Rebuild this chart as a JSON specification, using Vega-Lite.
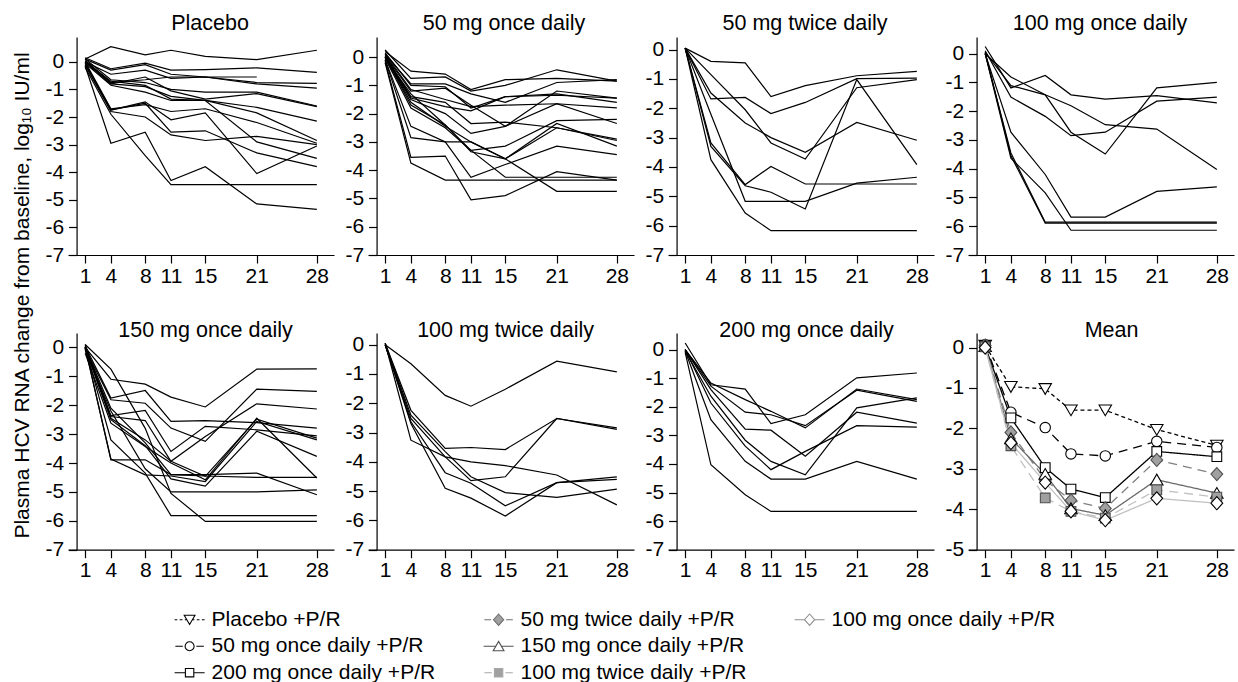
{
"$schema":"https://vega.github.io/schema/vega-lite/v6.json",
"background":"white",
"padding":{"left":11,"top":12,"right":2,"bottom":2},
"datasets":{
"p1":[
{"i":1,"d":1,"v":0.1},{"i":1,"d":4,"v":0.55},{"i":1,"d":8,"v":0.25},{"i":1,"d":11,"v":0.42},{"i":1,"d":15,"v":0.2},{"i":1,"d":21,"v":0.08},{"i":1,"d":28,"v":0.42},
{"i":2,"d":1,"v":0.15},{"i":2,"d":4,"v":-0.25},{"i":2,"d":8,"v":-0.05},{"i":2,"d":11,"v":-0.3},{"i":2,"d":15,"v":-0.28},{"i":2,"d":21,"v":-0.22},{"i":2,"d":28,"v":-0.38},
{"i":3,"d":1,"v":0.1},{"i":3,"d":4,"v":-0.3},{"i":3,"d":8,"v":-0.1},{"i":3,"d":11,"v":-0.45},{"i":3,"d":15,"v":-0.55},{"i":3,"d":21,"v":-0.75},{"i":3,"d":28,"v":-0.78},
{"i":4,"d":1,"v":0},{"i":4,"d":4,"v":-0.45},{"i":4,"d":8,"v":-0.3},{"i":4,"d":11,"v":-0.6},{"i":4,"d":15,"v":-0.55},{"i":4,"d":21,"v":-0.8},{"i":4,"d":28,"v":-0.95},
{"i":5,"d":1,"v":0.05},{"i":5,"d":4,"v":-0.75},{"i":5,"d":8,"v":-0.65},{"i":5,"d":11,"v":-0.55},{"i":5,"d":15,"v":-0.55},{"i":5,"d":21,"v":-0.55},
{"i":6,"d":1,"v":0.1},{"i":6,"d":4,"v":-0.65},{"i":6,"d":8,"v":-0.75},{"i":6,"d":11,"v":-1},{"i":6,"d":15,"v":-1.1},{"i":6,"d":21,"v":-1.1},{"i":6,"d":28,"v":-1.6},
{"i":7,"d":1,"v":0},{"i":7,"d":4,"v":-0.8},{"i":7,"d":8,"v":-0.55},{"i":7,"d":11,"v":-1.05},{"i":7,"d":15,"v":-1.35},{"i":7,"d":21,"v":-1.15},{"i":7,"d":28,"v":-1.62},
{"i":8,"d":1,"v":0},{"i":8,"d":4,"v":-0.8},{"i":8,"d":8,"v":-0.9},{"i":8,"d":11,"v":-1.25},{"i":8,"d":15,"v":-1.4},{"i":8,"d":21,"v":-1.65},{"i":8,"d":28,"v":-2.15},
{"i":9,"d":1,"v":-0.05},{"i":9,"d":4,"v":-0.85},{"i":9,"d":8,"v":-1.1},{"i":9,"d":11,"v":-1.4},{"i":9,"d":15,"v":-1.4},{"i":9,"d":21,"v":-1.85},{"i":9,"d":28,"v":-2.85},
{"i":10,"d":1,"v":0},{"i":10,"d":4,"v":-1.7},{"i":10,"d":8,"v":-1.55},{"i":10,"d":11,"v":-1.8},{"i":10,"d":15,"v":-1.7},{"i":10,"d":21,"v":-2.2},{"i":10,"d":28,"v":-2.95},
{"i":11,"d":1,"v":-0.05},{"i":11,"d":4,"v":-1.75},{"i":11,"d":8,"v":-1.45},{"i":11,"d":11,"v":-2.1},{"i":11,"d":15,"v":-1.85},{"i":11,"d":21,"v":-4.05},{"i":11,"d":28,"v":-3.05},
{"i":12,"d":1,"v":-0.1},{"i":12,"d":4,"v":-1.8},{"i":12,"d":8,"v":-2},{"i":12,"d":11,"v":-2.65},{"i":12,"d":15,"v":-2.85},{"i":12,"d":21,"v":-2.7},{"i":12,"d":28,"v":-3},
{"i":13,"d":1,"v":-0.1},{"i":13,"d":4,"v":-1.75},{"i":13,"d":8,"v":-1.5},{"i":13,"d":11,"v":-2.55},{"i":13,"d":15,"v":-2.5},{"i":13,"d":21,"v":-3.3},{"i":13,"d":28,"v":-3.8},
{"i":14,"d":1,"v":-0.15},{"i":14,"d":4,"v":-2.95},{"i":14,"d":8,"v":-2.55},{"i":14,"d":11,"v":-4.3},{"i":14,"d":15,"v":-3.8},{"i":14,"d":21,"v":-5.15},{"i":14,"d":28,"v":-5.35},
{"i":15,"d":1,"v":-0.2},{"i":15,"d":4,"v":-1.9},{"i":15,"d":8,"v":-3.4},{"i":15,"d":11,"v":-4.45},{"i":15,"d":15,"v":-4.45},{"i":15,"d":21,"v":-4.45},{"i":15,"d":28,"v":-4.45},
{"i":16,"d":1,"v":0},{"i":16,"d":4,"v":-0.7},{"i":16,"d":8,"v":-0.85},{"i":16,"d":11,"v":-1.35},{"i":16,"d":15,"v":-1.4},{"i":16,"d":21,"v":-2.9},{"i":16,"d":28,"v":-3.5}
],
"p2":[
{"i":1,"d":1,"v":0.2},{"i":1,"d":4,"v":-0.5},{"i":1,"d":8,"v":-0.6},{"i":1,"d":11,"v":-1.15},{"i":1,"d":15,"v":-0.8},{"i":1,"d":21,"v":-0.75},{"i":1,"d":28,"v":-0.85},
{"i":2,"d":1,"v":0.25},{"i":2,"d":4,"v":-0.75},{"i":2,"d":8,"v":-0.7},{"i":2,"d":11,"v":-1.2},{"i":2,"d":15,"v":-1},{"i":2,"d":21,"v":-0.45},{"i":2,"d":28,"v":-0.85},
{"i":3,"d":1,"v":0.1},{"i":3,"d":4,"v":-0.95},{"i":3,"d":8,"v":-0.95},{"i":3,"d":11,"v":-1.3},{"i":3,"d":15,"v":-1.6},{"i":3,"d":21,"v":-0.9},{"i":3,"d":28,"v":-0.8},
{"i":4,"d":1,"v":0.15},{"i":4,"d":4,"v":-1},{"i":4,"d":8,"v":-1.05},{"i":4,"d":11,"v":-1.8},{"i":4,"d":15,"v":-1.4},{"i":4,"d":21,"v":-1.35},{"i":4,"d":28,"v":-1.45},
{"i":5,"d":1,"v":0.05},{"i":5,"d":4,"v":-1.2},{"i":5,"d":8,"v":-1.1},{"i":5,"d":11,"v":-1.7},{"i":5,"d":15,"v":-2.45},{"i":5,"d":21,"v":-1.2},{"i":5,"d":28,"v":-1.45},
{"i":6,"d":1,"v":0.1},{"i":6,"d":4,"v":-1.15},{"i":6,"d":8,"v":-1.5},{"i":6,"d":11,"v":-1.75},{"i":6,"d":15,"v":-1.7},{"i":6,"d":21,"v":-1.65},{"i":6,"d":28,"v":-1.8},
{"i":7,"d":1,"v":0},{"i":7,"d":4,"v":-1.45},{"i":7,"d":8,"v":-1.75},{"i":7,"d":11,"v":-1.9},{"i":7,"d":15,"v":-1.4},{"i":7,"d":21,"v":-1.3},{"i":7,"d":28,"v":-1.6},
{"i":8,"d":1,"v":0.05},{"i":8,"d":4,"v":-1.4},{"i":8,"d":8,"v":-1.6},{"i":8,"d":11,"v":-2.35},{"i":8,"d":15,"v":-2.3},{"i":8,"d":21,"v":-2.5},{"i":8,"d":28,"v":-2.9},
{"i":9,"d":1,"v":0},{"i":9,"d":4,"v":-1.5},{"i":9,"d":8,"v":-2},{"i":9,"d":11,"v":-2.7},{"i":9,"d":15,"v":-2.45},{"i":9,"d":21,"v":-1.65},{"i":9,"d":28,"v":-2.35},
{"i":10,"d":1,"v":-0.05},{"i":10,"d":4,"v":-1.8},{"i":10,"d":8,"v":-2.5},{"i":10,"d":11,"v":-3.3},{"i":10,"d":15,"v":-3.15},{"i":10,"d":21,"v":-2.25},{"i":10,"d":28,"v":-2.2},
{"i":11,"d":1,"v":0},{"i":11,"d":4,"v":-1.6},{"i":11,"d":8,"v":-2.45},{"i":11,"d":11,"v":-3},{"i":11,"d":15,"v":-3.6},{"i":11,"d":21,"v":-2.35},{"i":11,"d":28,"v":-3.15},
{"i":12,"d":1,"v":-0.1},{"i":12,"d":4,"v":-2.45},{"i":12,"d":8,"v":-3},{"i":12,"d":11,"v":-3},{"i":12,"d":15,"v":-3.6},{"i":12,"d":21,"v":-2.5},{"i":12,"d":28,"v":-2.95},
{"i":13,"d":1,"v":-0.1},{"i":13,"d":4,"v":-2.85},{"i":13,"d":8,"v":-3},{"i":13,"d":11,"v":-4.25},{"i":13,"d":15,"v":-3.8},{"i":13,"d":21,"v":-3.15},{"i":13,"d":28,"v":-3.45},
{"i":14,"d":1,"v":-0.15},{"i":14,"d":4,"v":-3.55},{"i":14,"d":8,"v":-3.5},{"i":14,"d":11,"v":-5.05},{"i":14,"d":15,"v":-4.9},{"i":14,"d":21,"v":-4.05},{"i":14,"d":28,"v":-4.35},
{"i":15,"d":1,"v":-0.2},{"i":15,"d":4,"v":-3.75},{"i":15,"d":8,"v":-4.35},{"i":15,"d":11,"v":-4.35},{"i":15,"d":15,"v":-4.35},{"i":15,"d":21,"v":-4.35},{"i":15,"d":28,"v":-4.35},
{"i":16,"d":1,"v":-0.05},{"i":16,"d":4,"v":-1.3},{"i":16,"d":8,"v":-2.4},{"i":16,"d":11,"v":-3.35},{"i":16,"d":15,"v":-3.6},{"i":16,"d":21,"v":-4.75},{"i":16,"d":28,"v":-4.75},
{"i":17,"d":1,"v":0},{"i":17,"d":4,"v":-1.7},{"i":17,"d":8,"v":-2.4},{"i":17,"d":11,"v":-3.3},{"i":17,"d":15,"v":-4.25},{"i":17,"d":21,"v":-4.25},{"i":17,"d":28,"v":-4.25}
],
"p3":[
{"i":1,"d":1,"v":0.05},{"i":1,"d":4,"v":-0.4},{"i":1,"d":8,"v":-0.45},{"i":1,"d":11,"v":-1.6},{"i":1,"d":15,"v":-1.23},{"i":1,"d":21,"v":-0.89},{"i":1,"d":28,"v":-0.74},
{"i":2,"d":1,"v":0.05},{"i":2,"d":4,"v":-1.68},{"i":2,"d":8,"v":-1.63},{"i":2,"d":11,"v":-2.18},{"i":2,"d":15,"v":-1.8},{"i":2,"d":21,"v":-0.99},{"i":2,"d":28,"v":-0.97},
{"i":3,"d":1,"v":0.05},{"i":3,"d":4,"v":-0.85},{"i":3,"d":8,"v":-2.05},{"i":3,"d":11,"v":-3.18},{"i":3,"d":15,"v":-3.73},{"i":3,"d":21,"v":-1.3},{"i":3,"d":28,"v":-1.02},
{"i":4,"d":1,"v":0.05},{"i":4,"d":4,"v":-1.48},{"i":4,"d":8,"v":-2.5},{"i":4,"d":11,"v":-3},{"i":4,"d":15,"v":-3.5},{"i":4,"d":21,"v":-2.48},{"i":4,"d":28,"v":-3.09},
{"i":5,"d":1,"v":0.05},{"i":5,"d":4,"v":-3.18},{"i":5,"d":8,"v":-4.6},{"i":5,"d":11,"v":-3.98},{"i":5,"d":15,"v":-4.58},{"i":5,"d":21,"v":-4.58},{"i":5,"d":28,"v":-4.58},
{"i":6,"d":1,"v":0.05},{"i":6,"d":4,"v":-3.3},{"i":6,"d":8,"v":-4.64},{"i":6,"d":11,"v":-4.86},{"i":6,"d":15,"v":-5.43},{"i":6,"d":21,"v":-1.02},{"i":6,"d":28,"v":-3.92},
{"i":7,"d":1,"v":0.05},{"i":7,"d":4,"v":-2.2},{"i":7,"d":8,"v":-5.17},{"i":7,"d":11,"v":-5.17},{"i":7,"d":15,"v":-5.17},{"i":7,"d":21,"v":-4.55},{"i":7,"d":28,"v":-4.35},
{"i":8,"d":1,"v":0.05},{"i":8,"d":4,"v":-3.75},{"i":8,"d":8,"v":-5.57},{"i":8,"d":11,"v":-6.17},{"i":8,"d":15,"v":-6.17},{"i":8,"d":21,"v":-6.17},{"i":8,"d":28,"v":-6.17}
],
"p4":[
{"i":1,"d":1,"v":0.25},{"i":1,"d":4,"v":-1.19},{"i":1,"d":8,"v":-0.76},{"i":1,"d":11,"v":-1.43},{"i":1,"d":15,"v":-1.58},{"i":1,"d":21,"v":-1.46},{"i":1,"d":28,"v":-1.71},
{"i":2,"d":1,"v":0},{"i":2,"d":4,"v":-0.81},{"i":2,"d":8,"v":-1.43},{"i":2,"d":11,"v":-1.81},{"i":2,"d":15,"v":-2.47},{"i":2,"d":21,"v":-2.62},{"i":2,"d":28,"v":-4.03},
{"i":3,"d":1,"v":0.05},{"i":3,"d":4,"v":-1.11},{"i":3,"d":8,"v":-1.43},{"i":3,"d":11,"v":-2.73},{"i":3,"d":15,"v":-3.49},{"i":3,"d":21,"v":-1.19},{"i":3,"d":28,"v":-1},
{"i":4,"d":1,"v":0.1},{"i":4,"d":4,"v":-1.51},{"i":4,"d":8,"v":-2.18},{"i":4,"d":11,"v":-2.85},{"i":4,"d":15,"v":-2.73},{"i":4,"d":21,"v":-1.65},{"i":4,"d":28,"v":-1.51},
{"i":5,"d":1,"v":0},{"i":5,"d":4,"v":-2.73},{"i":5,"d":8,"v":-4.2},{"i":5,"d":11,"v":-5.68},{"i":5,"d":15,"v":-5.68},{"i":5,"d":21,"v":-4.79},{"i":5,"d":28,"v":-4.63},
{"i":6,"d":1,"v":0},{"i":6,"d":4,"v":-3.45},{"i":6,"d":8,"v":-5.86},{"i":6,"d":11,"v":-5.86},{"i":6,"d":15,"v":-5.86},{"i":6,"d":21,"v":-5.86},{"i":6,"d":28,"v":-5.86},
{"i":7,"d":1,"v":0.05},{"i":7,"d":4,"v":-3.55},{"i":7,"d":8,"v":-5.89},{"i":7,"d":11,"v":-5.89},{"i":7,"d":15,"v":-5.89},{"i":7,"d":21,"v":-5.89},{"i":7,"d":28,"v":-5.89},
{"i":8,"d":1,"v":0},{"i":8,"d":4,"v":-3.63},{"i":8,"d":8,"v":-4.84},{"i":8,"d":11,"v":-6.14},{"i":8,"d":15,"v":-6.14},{"i":8,"d":21,"v":-6.14},{"i":8,"d":28,"v":-6.14}
],
"p5":[
{"i":1,"d":1,"v":0.1},{"i":1,"d":4,"v":-0.75},{"i":1,"d":8,"v":-2.8},{"i":1,"d":11,"v":-5.05},{"i":1,"d":15,"v":-6.02},{"i":1,"d":21,"v":-6.02},{"i":1,"d":28,"v":-6.02},
{"i":2,"d":1,"v":0},{"i":2,"d":4,"v":-1.1},{"i":2,"d":8,"v":-1.27},{"i":2,"d":11,"v":-1.72},{"i":2,"d":15,"v":-2.06},{"i":2,"d":21,"v":-0.75},{"i":2,"d":28,"v":-0.74},
{"i":3,"d":1,"v":0.05},{"i":3,"d":4,"v":-1.75},{"i":3,"d":8,"v":-1.49},{"i":3,"d":11,"v":-2.56},{"i":3,"d":15,"v":-2.53},{"i":3,"d":21,"v":-2.6},{"i":3,"d":28,"v":-2.79},
{"i":4,"d":1,"v":-0.05},{"i":4,"d":4,"v":-1.81},{"i":4,"d":8,"v":-1.93},{"i":4,"d":11,"v":-2.79},{"i":4,"d":15,"v":-3.25},{"i":4,"d":21,"v":-1.44},{"i":4,"d":28,"v":-1.52},
{"i":5,"d":1,"v":0},{"i":5,"d":4,"v":-2.36},{"i":5,"d":8,"v":-2.18},{"i":5,"d":11,"v":-3.6},{"i":5,"d":15,"v":-2.73},{"i":5,"d":21,"v":-2.85},{"i":5,"d":28,"v":-3.06},
{"i":6,"d":1,"v":0},{"i":6,"d":4,"v":-2.39},{"i":6,"d":8,"v":-2.53},{"i":6,"d":11,"v":-3.94},{"i":6,"d":15,"v":-3.08},{"i":6,"d":21,"v":-1.95},{"i":6,"d":28,"v":-2.13},
{"i":7,"d":1,"v":0.1},{"i":7,"d":4,"v":-2.45},{"i":7,"d":8,"v":-3.2},{"i":7,"d":11,"v":-3.94},{"i":7,"d":15,"v":-4.46},{"i":7,"d":21,"v":-2.48},{"i":7,"d":28,"v":-3.14},
{"i":8,"d":1,"v":-0.2},{"i":8,"d":4,"v":-2.62},{"i":8,"d":8,"v":-3.43},{"i":8,"d":11,"v":-4},{"i":8,"d":15,"v":-4.58},{"i":8,"d":21,"v":-2.45},{"i":8,"d":28,"v":-4.52},
{"i":9,"d":1,"v":0},{"i":9,"d":4,"v":-3.89},{"i":9,"d":8,"v":-3.89},{"i":9,"d":11,"v":-4.4},{"i":9,"d":15,"v":-4.4},{"i":9,"d":21,"v":-4.35},{"i":9,"d":28,"v":-5.1},
{"i":10,"d":1,"v":0},{"i":10,"d":4,"v":-3.86},{"i":10,"d":8,"v":-4.41},{"i":10,"d":11,"v":-4.45},{"i":10,"d":15,"v":-4.64},{"i":10,"d":21,"v":-2.56},{"i":10,"d":28,"v":-3.2},
{"i":11,"d":1,"v":-0.1},{"i":11,"d":4,"v":-2.2},{"i":11,"d":8,"v":-4.2},{"i":11,"d":11,"v":-5},{"i":11,"d":15,"v":-5},{"i":11,"d":21,"v":-5},{"i":11,"d":28,"v":-4.93},
{"i":12,"d":1,"v":0},{"i":12,"d":4,"v":-3.2},{"i":12,"d":8,"v":-4.35},{"i":12,"d":11,"v":-5.82},{"i":12,"d":15,"v":-5.82},{"i":12,"d":21,"v":-5.82},{"i":12,"d":28,"v":-5.82},
{"i":13,"d":1,"v":-0.05},{"i":13,"d":4,"v":-2.5},{"i":13,"d":8,"v":-3.4},{"i":13,"d":11,"v":-4.55},{"i":13,"d":15,"v":-4.8},{"i":13,"d":21,"v":-2.9},{"i":13,"d":28,"v":-3.77},
{"i":14,"d":1,"v":0},{"i":14,"d":4,"v":-2.1},{"i":14,"d":8,"v":-3.3},{"i":14,"d":11,"v":-4.4},{"i":14,"d":15,"v":-4.45},{"i":14,"d":21,"v":-4.5},{"i":14,"d":28,"v":-4.5}
],
"p6":[
{"i":1,"d":1,"v":0},{"i":1,"d":4,"v":-0.65},{"i":1,"d":8,"v":-1.73},{"i":1,"d":11,"v":-2.1},{"i":1,"d":15,"v":-1.52},{"i":1,"d":21,"v":-0.56},{"i":1,"d":28,"v":-0.93},
{"i":2,"d":1,"v":0.05},{"i":2,"d":4,"v":-2.24},{"i":2,"d":8,"v":-3.54},{"i":2,"d":11,"v":-3.51},{"i":2,"d":15,"v":-3.58},{"i":2,"d":21,"v":-2.52},{"i":2,"d":28,"v":-2.84},
{"i":3,"d":1,"v":0},{"i":3,"d":4,"v":-2.52},{"i":3,"d":8,"v":-3.83},{"i":3,"d":11,"v":-4.64},{"i":3,"d":15,"v":-4.51},{"i":3,"d":21,"v":-2.52},{"i":3,"d":28,"v":-2.89},
{"i":4,"d":1,"v":0.05},{"i":4,"d":4,"v":-3.26},{"i":4,"d":8,"v":-3.83},{"i":4,"d":11,"v":-4},{"i":4,"d":15,"v":-4.13},{"i":4,"d":21,"v":-4.45},{"i":4,"d":28,"v":-5.47},
{"i":5,"d":1,"v":0},{"i":5,"d":4,"v":-2.63},{"i":5,"d":8,"v":-4.37},{"i":5,"d":11,"v":-4.73},{"i":5,"d":15,"v":-5.5},{"i":5,"d":21,"v":-4.71},{"i":5,"d":28,"v":-4.51},
{"i":6,"d":1,"v":0},{"i":6,"d":4,"v":-2.69},{"i":6,"d":8,"v":-4.9},{"i":6,"d":11,"v":-5.24},{"i":6,"d":15,"v":-5.85},{"i":6,"d":21,"v":-4.71},{"i":6,"d":28,"v":-4.6},
{"i":7,"d":1,"v":0.05},{"i":7,"d":4,"v":-2.41},{"i":7,"d":8,"v":-3.65},{"i":7,"d":11,"v":-4.51},{"i":7,"d":15,"v":-5.05},{"i":7,"d":21,"v":-5.21},{"i":7,"d":28,"v":-4.93}
],
"p7":[
{"i":1,"d":1,"v":0.23},{"i":1,"d":4,"v":-1.23},{"i":1,"d":8,"v":-1.38},{"i":1,"d":11,"v":-2.59},{"i":1,"d":15,"v":-2.28},{"i":1,"d":21,"v":-0.99},{"i":1,"d":28,"v":-0.82},
{"i":2,"d":1,"v":0},{"i":2,"d":4,"v":-1.17},{"i":2,"d":8,"v":-1.75},{"i":2,"d":11,"v":-2.16},{"i":2,"d":15,"v":-2.74},{"i":2,"d":21,"v":-1.38},{"i":2,"d":28,"v":-1.75},
{"i":3,"d":1,"v":0},{"i":3,"d":4,"v":-1.28},{"i":3,"d":8,"v":-2.19},{"i":3,"d":11,"v":-2.28},{"i":3,"d":15,"v":-2.66},{"i":3,"d":21,"v":-1.42},{"i":3,"d":28,"v":-1.81},
{"i":4,"d":1,"v":0},{"i":4,"d":4,"v":-1.4},{"i":4,"d":8,"v":-2.78},{"i":4,"d":11,"v":-2.82},{"i":4,"d":15,"v":-3.73},{"i":4,"d":21,"v":-2.19},{"i":4,"d":28,"v":-2.57},
{"i":5,"d":1,"v":-0.05},{"i":5,"d":4,"v":-1.63},{"i":5,"d":8,"v":-3.17},{"i":5,"d":11,"v":-3.91},{"i":5,"d":15,"v":-4.38},{"i":5,"d":21,"v":-2.04},{"i":5,"d":28,"v":-1.69},
{"i":6,"d":1,"v":0},{"i":6,"d":4,"v":-1.87},{"i":6,"d":8,"v":-3.38},{"i":6,"d":11,"v":-4.2},{"i":6,"d":15,"v":-3.56},{"i":6,"d":21,"v":-2.66},{"i":6,"d":28,"v":-2.71},
{"i":7,"d":1,"v":-0.05},{"i":7,"d":4,"v":-2.45},{"i":7,"d":8,"v":-3.91},{"i":7,"d":11,"v":-4.53},{"i":7,"d":15,"v":-4.53},{"i":7,"d":21,"v":-3.91},{"i":7,"d":28,"v":-4.53},
{"i":8,"d":1,"v":-0.1},{"i":8,"d":4,"v":-4.03},{"i":8,"d":8,"v":-5.08},{"i":8,"d":11,"v":-5.66},{"i":8,"d":15,"v":-5.66},{"i":8,"d":21,"v":-5.66},{"i":8,"d":28,"v":-5.66}
],
"mean":[
{"s":"Placebo +P/R","d":1,"v":0.05},{"s":"Placebo +P/R","d":4,"v":-0.97},{"s":"Placebo +P/R","d":8,"v":-1.02},{"s":"Placebo +P/R","d":11,"v":-1.55},{"s":"Placebo +P/R","d":15,"v":-1.55},{"s":"Placebo +P/R","d":21,"v":-2.03},{"s":"Placebo +P/R","d":28,"v":-2.42},
{"s":"50 mg once daily +P/R","d":1,"v":0.07},{"s":"50 mg once daily +P/R","d":4,"v":-1.6},{"s":"50 mg once daily +P/R","d":8,"v":-1.98},{"s":"50 mg once daily +P/R","d":11,"v":-2.63},{"s":"50 mg once daily +P/R","d":15,"v":-2.68},{"s":"50 mg once daily +P/R","d":21,"v":-2.32},{"s":"50 mg once daily +P/R","d":28,"v":-2.47},
{"s":"200 mg once daily +P/R","d":1,"v":0.03},{"s":"200 mg once daily +P/R","d":4,"v":-1.74},{"s":"200 mg once daily +P/R","d":8,"v":-2.97},{"s":"200 mg once daily +P/R","d":11,"v":-3.5},{"s":"200 mg once daily +P/R","d":15,"v":-3.71},{"s":"200 mg once daily +P/R","d":21,"v":-2.57},{"s":"200 mg once daily +P/R","d":28,"v":-2.7},
{"s":"50 mg twice daily +P/R","d":1,"v":0.05},{"s":"50 mg twice daily +P/R","d":4,"v":-2.1},{"s":"50 mg twice daily +P/R","d":8,"v":-3.28},{"s":"50 mg twice daily +P/R","d":11,"v":-3.78},{"s":"50 mg twice daily +P/R","d":15,"v":-3.98},{"s":"50 mg twice daily +P/R","d":21,"v":-2.78},{"s":"50 mg twice daily +P/R","d":28,"v":-3.13},
{"s":"150 mg once daily +P/R","d":1,"v":0.03},{"s":"150 mg once daily +P/R","d":4,"v":-2.25},{"s":"150 mg once daily +P/R","d":8,"v":-3.13},{"s":"150 mg once daily +P/R","d":11,"v":-3.98},{"s":"150 mg once daily +P/R","d":15,"v":-4.15},{"s":"150 mg once daily +P/R","d":21,"v":-3.27},{"s":"150 mg once daily +P/R","d":28,"v":-3.6},
{"s":"100 mg twice daily +P/R","d":1,"v":0.02},{"s":"100 mg twice daily +P/R","d":4,"v":-2.43},{"s":"100 mg twice daily +P/R","d":8,"v":-3.72},{"s":"100 mg twice daily +P/R","d":11,"v":-4.05},{"s":"100 mg twice daily +P/R","d":15,"v":-4.22},{"s":"100 mg twice daily +P/R","d":21,"v":-3.52},{"s":"100 mg twice daily +P/R","d":28,"v":-3.7},
{"s":"100 mg once daily +P/R","d":1,"v":0},{"s":"100 mg once daily +P/R","d":4,"v":-2.36},{"s":"100 mg once daily +P/R","d":8,"v":-3.34},{"s":"100 mg once daily +P/R","d":11,"v":-4.05},{"s":"100 mg once daily +P/R","d":15,"v":-4.27},{"s":"100 mg once daily +P/R","d":21,"v":-3.73},{"s":"100 mg once daily +P/R","d":28,"v":-3.85}
]
},
"concat":[
{"title":{"text":"Placebo","offset":3,"dx":9},"width":266,"height":218,"data":{"name":"p1"},"mark":{"type":"line","color":"black","strokeWidth":1.2},
 "encoding":{"x":{"field":"d","type":"quantitative","title":null,"scale":{"domain":[-1,30],"nice":false,"zero":false},"axis":{"values":[1,4,8,11,15,21,28],"labelOverlap":false,"labelFlush":false,"labelPadding":2}},
 "y":{"field":"v","type":"quantitative","scale":{"domain":[-7,0.9],"nice":false,"zero":false},"axis":{"values":[-7,-6,-5,-4,-3,-2,-1,0],"offset":-8.58,"labelExpr":"''+datum.value","labelPadding":5,"labelOverlap":false,"title":"Plasma HCV RNA change from baseline, log₁₀ IU/ml","titleX":-48,"titleY":258,"titleAngle":270,"titleAlign":"center","titleBaseline":"alphabetic"}},
 "detail":{"field":"i","type":"nominal"}}},
{"title":{"text":"50 mg once daily","offset":3,"dx":3},"width":266,"height":218,"data":{"name":"p2"},"mark":{"type":"line","color":"black","strokeWidth":1.2},
 "encoding":{"x":{"field":"d","type":"quantitative","title":null,"scale":{"domain":[-1,30],"nice":false,"zero":false},"axis":{"values":[1,4,8,11,15,21,28],"labelOverlap":false,"labelFlush":false,"labelPadding":2}},
 "y":{"field":"v","type":"quantitative","title":null,"scale":{"domain":[-7,0.71],"nice":false,"zero":false},"axis":{"values":[-7,-6,-5,-4,-3,-2,-1,0],"offset":-8.58,"labelExpr":"''+datum.value","labelPadding":5,"labelOverlap":false}},
 "detail":{"field":"i","type":"nominal"}}},
{"title":{"text":"50 mg twice daily","offset":3,"dx":4},"width":266,"height":218,"data":{"name":"p3"},"mark":{"type":"line","color":"black","strokeWidth":1.2},
 "encoding":{"x":{"field":"d","type":"quantitative","title":null,"scale":{"domain":[-1,30],"nice":false,"zero":false},"axis":{"values":[1,4,8,11,15,21,28],"labelOverlap":false,"labelFlush":false,"labelPadding":2}},
 "y":{"field":"v","type":"quantitative","title":null,"scale":{"domain":[-7,0.43],"nice":false,"zero":false},"axis":{"values":[-7,-6,-5,-4,-3,-2,-1,0],"offset":-8.58,"labelExpr":"''+datum.value","labelPadding":5,"labelOverlap":false}},
 "detail":{"field":"i","type":"nominal"}}},
{"title":{"text":"100 mg once daily","offset":3,"dx":-1},"width":266,"height":218,"data":{"name":"p4"},"mark":{"type":"line","color":"black","strokeWidth":1.2},
 "encoding":{"x":{"field":"d","type":"quantitative","title":null,"scale":{"domain":[-1,30],"nice":false,"zero":false},"axis":{"values":[1,4,8,11,15,21,28],"labelOverlap":false,"labelFlush":false,"labelPadding":2}},
 "y":{"field":"v","type":"quantitative","title":null,"scale":{"domain":[-7,0.58],"nice":false,"zero":false},"axis":{"values":[-7,-6,-5,-4,-3,-2,-1,0],"offset":-8.58,"labelExpr":"''+datum.value","labelPadding":5,"labelOverlap":false}},
 "detail":{"field":"i","type":"nominal"}}},
{"title":{"text":"150 mg once daily","offset":-8,"dx":4.5},"width":266,"height":216.7,"data":{"name":"p5"},"mark":{"type":"line","color":"black","strokeWidth":1.2},
 "encoding":{"x":{"field":"d","type":"quantitative","title":null,"scale":{"domain":[-1,30],"nice":false,"zero":false},"axis":{"values":[1,4,8,11,15,21,28],"labelOverlap":false,"labelFlush":false,"labelPadding":2}},
 "y":{"field":"v","type":"quantitative","title":null,"scale":{"domain":[-7,0.5],"nice":false,"zero":false},"axis":{"values":[-7,-6,-5,-4,-3,-2,-1,0],"offset":-8.58,"labelExpr":"''+datum.value","labelPadding":5,"labelOverlap":false}},
 "detail":{"field":"i","type":"nominal"}}},
{"title":{"text":"100 mg twice daily","offset":-8,"dx":4.6},"width":266,"height":216.7,"data":{"name":"p6"},"mark":{"type":"line","color":"black","strokeWidth":1.2},
 "encoding":{"x":{"field":"d","type":"quantitative","title":null,"scale":{"domain":[-1,30],"nice":false,"zero":false},"axis":{"values":[1,4,8,11,15,21,28],"labelOverlap":false,"labelFlush":false,"labelPadding":2}},
 "y":{"field":"v","type":"quantitative","title":null,"scale":{"domain":[-7,0.4],"nice":false,"zero":false},"axis":{"values":[-7,-6,-5,-4,-3,-2,-1,0],"offset":-8.58,"labelExpr":"''+datum.value","labelPadding":5,"labelOverlap":false}},
 "detail":{"field":"i","type":"nominal"}}},
{"title":{"text":"200 mg once daily","offset":-8,"dx":5.6},"width":266,"height":216.7,"data":{"name":"p7"},"mark":{"type":"line","color":"black","strokeWidth":1.2},
 "encoding":{"x":{"field":"d","type":"quantitative","title":null,"scale":{"domain":[-1,30],"nice":false,"zero":false},"axis":{"values":[1,4,8,11,15,21,28],"labelOverlap":false,"labelFlush":false,"labelPadding":2}},
 "y":{"field":"v","type":"quantitative","title":null,"scale":{"domain":[-7,0.58],"nice":false,"zero":false},"axis":{"values":[-7,-6,-5,-4,-3,-2,-1,0],"offset":-8.58,"labelExpr":"''+datum.value","labelPadding":5,"labelOverlap":false}},
 "detail":{"field":"i","type":"nominal"}}},
{"title":{"text":"Mean","offset":-8,"dx":10.6},"width":266,"height":216.7,"data":{"name":"mean"},
 "encoding":{"x":{"field":"d","type":"quantitative","title":null,"scale":{"domain":[-1,30],"nice":false,"zero":false},"axis":{"values":[1,4,8,11,15,21,28],"labelOverlap":false,"labelFlush":false,"labelPadding":2}},
 "y":{"field":"v","type":"quantitative","title":null,"scale":{"domain":[-5,0.36],"nice":false,"zero":false},"axis":{"values":[-5,-4,-3,-2,-1,0],"offset":-8.58,"labelExpr":"''+datum.value","labelPadding":5,"labelOverlap":false}}},
 "layer":[
  {"mark":{"type":"line","strokeWidth":1.3},
   "encoding":{
    "color":{"field":"s","type":"nominal","legend":null,"scale":{"domain":["Placebo +P/R","50 mg once daily +P/R","200 mg once daily +P/R","50 mg twice daily +P/R","150 mg once daily +P/R","100 mg twice daily +P/R","100 mg once daily +P/R"],"range":["#000000","#000000","#000000","#808080","#6a6a6a","#c0c0c0","#c0c0c0"]}},
    "strokeDash":{"field":"s","type":"nominal","legend":null,"scale":{"domain":["Placebo +P/R","50 mg once daily +P/R","200 mg once daily +P/R","50 mg twice daily +P/R","150 mg once daily +P/R","100 mg twice daily +P/R","100 mg once daily +P/R"],"range":[[4,3],[9,6],[1,0],[9,6],[1,0],[9,6],[1,0]]}}
   }},
  {"mark":{"type":"point","size":1200,"opacity":1,"filled":true,"strokeWidth":1.1},
   "encoding":{
    "shape":{"field":"s","type":"nominal","legend":null,"scale":{"domain":["Placebo +P/R","50 mg once daily +P/R","200 mg once daily +P/R","50 mg twice daily +P/R","150 mg once daily +P/R","100 mg twice daily +P/R","100 mg once daily +P/R"],"range":["M-0.36,-0.3L0.36,-0.3L0,0.32Z","M-0.3,0A0.3,0.3,0,1,1,0.3,0A0.3,0.3,0,1,1,-0.3,0Z","M-0.28,-0.28L0.28,-0.28L0.28,0.28L-0.28,0.28Z","M0,-0.38L0.34,0L0,0.38L-0.34,0Z","M-0.36,0.3L0.36,0.3L0,-0.32Z","M-0.28,-0.28L0.28,-0.28L0.28,0.28L-0.28,0.28Z","M0,-0.38L0.34,0L0,0.38L-0.34,0Z"]}},
    "fill":{"field":"s","type":"nominal","legend":null,"scale":{"domain":["Placebo +P/R","50 mg once daily +P/R","200 mg once daily +P/R","50 mg twice daily +P/R","150 mg once daily +P/R","100 mg twice daily +P/R","100 mg once daily +P/R"],"range":["#ffffff","#ffffff","#ffffff","#a0a0a0","#ffffff","#a0a0a0","#ffffff"]}},
    "stroke":{"field":"s","type":"nominal","legend":null,"scale":{"domain":["Placebo +P/R","50 mg once daily +P/R","200 mg once daily +P/R","50 mg twice daily +P/R","150 mg once daily +P/R","100 mg twice daily +P/R","100 mg once daily +P/R"],"range":["#000000","#000000","#000000","#505050","#000000","#505050","#000000"]}}
   }},
  {"transform":[{"filter":"false"}],
   "mark":{"type":"point","opacity":1,"filled":true,"strokeWidth":1.1},
   "encoding":{
    "shape":{"field":"s","type":"nominal","scale":{"domain":["Placebo +P/R","50 mg once daily +P/R","200 mg once daily +P/R","50 mg twice daily +P/R","150 mg once daily +P/R","100 mg twice daily +P/R","100 mg once daily +P/R","zz"],"range":["M-1,0H-0.82M-0.66,0H-0.48M-0.32,0H-0.19M0.19,0H0.32M0.48,0H0.66M0.82,0H1M-0.36,-0.3L0.36,-0.3L0,0.32Z","M-0.95,0H-0.45M0.45,0H0.95M-0.3,0A0.3,0.3,0,1,1,0.3,0A0.3,0.3,0,1,1,-0.3,0Z","M-1,0H-0.28M0.28,0H1M-0.28,-0.28L0.28,-0.28L0.28,0.28L-0.28,0.28Z","M-0.95,0H-0.5M0.5,0H0.95M0,-0.38L0.34,0L0,0.38L-0.34,0Z","M-1,0H-0.19M0.19,0H1M-0.36,0.3L0.36,0.3L0,-0.32Z","M-0.95,0H-0.45M0.45,0H0.95M-0.28,-0.28L0.28,-0.28L0.28,0.28L-0.28,0.28Z","M-1,0H-0.34M0.34,0H1M0,-0.38L0.34,0L0,0.38L-0.34,0Z","M-0.05,-0.05L0.05,-0.05L0.05,0.05L-0.05,0.05Z"]},
     "legend":{"orient":"none","legendX":-794.4,"legendY":270.7,"title":null,"columns":3,"columnPadding":45,"rowPadding":0.5,"gridAlign":"each","symbolSize":900,"symbolStrokeWidth":1.1,"labelFontSize":21,"labelFont":"Liberation Sans","labelColor":"black","labelOffset":6,"labelLimit":500,"padding":0,"labelExpr":"datum.label == 'zz' ? '' : datum.label"}},
    "fill":{"field":"s","type":"nominal","scale":{"domain":["Placebo +P/R","50 mg once daily +P/R","200 mg once daily +P/R","50 mg twice daily +P/R","150 mg once daily +P/R","100 mg twice daily +P/R","100 mg once daily +P/R","zz"],"range":["#ffffff","#ffffff","#ffffff","#a0a0a0","#ffffff","#a0a0a0","#ffffff","rgba(0,0,0,0)"]},
     "legend":{"orient":"none","legendX":-794.4,"legendY":270.7,"title":null,"columns":3,"columnPadding":45,"rowPadding":0.5,"gridAlign":"each","symbolSize":900,"symbolStrokeWidth":1.1,"labelFontSize":21,"labelFont":"Liberation Sans","labelColor":"black","labelOffset":6,"labelLimit":500,"padding":0,"labelExpr":"datum.label == 'zz' ? '' : datum.label"}},
    "stroke":{"field":"s","type":"nominal","scale":{"domain":["Placebo +P/R","50 mg once daily +P/R","200 mg once daily +P/R","50 mg twice daily +P/R","150 mg once daily +P/R","100 mg twice daily +P/R","100 mg once daily +P/R","zz"],"range":["#000000","#000000","#000000","#707070","#505050","#a8a8a8","#909090","rgba(0,0,0,0)"]},
     "legend":{"orient":"none","legendX":-794.4,"legendY":270.7,"title":null,"columns":3,"columnPadding":45,"rowPadding":0.5,"gridAlign":"each","symbolSize":900,"symbolStrokeWidth":1.1,"labelFontSize":21,"labelFont":"Liberation Sans","labelColor":"black","labelOffset":6,"labelLimit":500,"padding":0,"labelExpr":"datum.label == 'zz' ? '' : datum.label"}}
   }}
 ],
 "resolve":{"scale":{"shape":"independent","fill":"independent","stroke":"independent"}}}
],
"columns":4,
"spacing":{"row":78,"column":34},
"bounds":"flush",
"config":{
 "font":"Liberation Sans",
 "view":{"stroke":null},
 "axis":{"grid":false,"domainColor":"black","tickColor":"black","labelColor":"black","labelFontSize":21,"labelFont":"Liberation Sans","tickSize":8,"domainWidth":1.2,"tickWidth":1.2,"titleFont":"Liberation Sans","titleFontSize":21,"titleFontWeight":"normal","titleColor":"black"},
 "title":{"fontSize":21.5,"fontWeight":"normal","color":"black","font":"Liberation Sans","anchor":"middle","frame":"group","baseline":"alphabetic"}
}
}
